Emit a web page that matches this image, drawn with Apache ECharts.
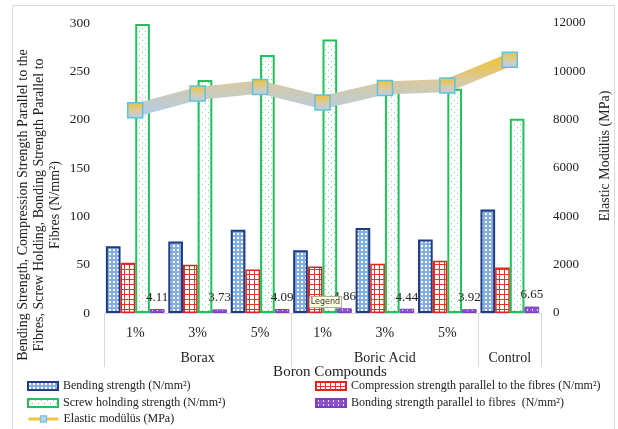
<!DOCTYPE html>
<html>
<head>
<meta charset="utf-8">
<script src="https://cdn.jsdelivr.net/npm/echarts@6/dist/echarts.min.js"></script>
<style>html,body{margin:0;padding:0;background:#fff;}#c{width:618px;height:429px;}</style>
</head>
<body>
<div id="c"></div>
<script>
const categories = ['1%', '3%', '5%', '1%', '3%', '5%', ''];
const groups = ['Borax', 'Boric Acid', 'Control'];
const groupBounds = [0, 3, 6, 7];
const groupCenters = [1.5, 4.5, 6.5];
const bending = [69, 74, 86, 65, 88, 76, 107];
const compression = [52, 50, 45, 48, 51, 54, 47];
const screw = [299, 241, 267, 283, 230, 232, 201];
const bonding = [4.11, 3.73, 4.09, 4.86, 4.44, 3.92, 6.65];
const elastic = [8390, 9080, 9350, 8710, 9310, 9410, 10480];
const seriesNames = [
  'Bending strength (N/mm²)',
  'Compression strength parallel to the fibres (N/mm²)',
  'Screw holnding strength (N/mm²)',
  'Bonding strength parallel to fibres  (N/mm²)',
  'Elastic modülüs (MPa)'
];

const SERIF = '"Liberation Serif", "Times New Roman", serif';

function pattern(w, h, draw) {
  const c = document.createElement('canvas');
  c.width = w; c.height = h;
  const g = c.getContext('2d');
  draw(g);
  return { image: c, repeat: 'repeat' };
}
const bluePat = pattern(4, 4, g => { g.fillStyle = '#86ade0'; g.fillRect(0, 0, 4, 4); g.fillStyle = '#ffffff'; g.fillRect(1, 1, 2, 2); });
const redPat = pattern(5, 5, g => { g.fillStyle = '#ffffff'; g.fillRect(0, 0, 5, 5); g.fillStyle = '#e8322a'; g.fillRect(4, 0, 1, 5); g.fillRect(0, 4, 5, 1); });
const greenPat = pattern(6, 6, g => { g.fillStyle = '#ffffff'; g.fillRect(0, 0, 6, 6); g.fillStyle = '#74d49a'; g.fillRect(1, 1, 1, 1); g.fillRect(4, 4, 1, 1); });
const purplePat = pattern(5, 4, g => { g.fillStyle = '#8c50cc'; g.fillRect(0, 0, 5, 4); g.fillStyle = '#e8dcf7'; g.fillRect(2, 1, 1, 2); });

const chart = echarts.init(document.getElementById('c'), null, { renderer: 'canvas' });

const textBase = { fontFamily: SERIF, color: '#222' };

function legendAt(left, centerY, item) {
  return {
    orient: 'horizontal', left: left, top: centerY - 7, padding: 0,
    itemWidth: 30, itemHeight: 8, itemGap: 5,
    textStyle: { fontFamily: SERIF, fontSize: 12, color: '#222' },
    data: [item]
  };
}

const option = {
  animation: false,
  backgroundColor: '#fff',
  grid: { left: 104, right: 77, top: 23, bottom: 116 },
  xAxis: [
    {
      type: 'category', data: categories,
      axisLine: { lineStyle: { color: '#d9d9d9' } },
      axisTick: { show: false },
      axisLabel: Object.assign({ fontSize: 14, margin: 13 }, textBase)
    },
    {
      type: 'value', min: 0, max: 7, position: 'bottom',
      axisLine: { show: false },
      splitLine: { show: false },
      axisTick: { show: true, customValues: groupBounds, length: 54, lineStyle: { color: '#d9d9d9' } },
      axisLabel: Object.assign({ fontSize: 14, margin: 38, customValues: groupCenters,
        formatter: v => groups[groupCenters.indexOf(v)] || '' }, textBase)
    }
  ],
  yAxis: [
    {
      type: 'value', min: 0, max: 300, interval: 50,
      axisLine: { show: false }, axisTick: { show: false }, splitLine: { show: false },
      axisLabel: Object.assign({ fontSize: 13.5, margin: 14 }, textBase)
    },
    {
      type: 'value', min: 0, max: 12000, interval: 2000, position: 'right',
      axisLine: { show: false }, axisTick: { show: false }, splitLine: { show: false },
      axisLabel: Object.assign({ fontSize: 13, margin: 12, formatter: v => String(v) }, textBase)
    }
  ],
  legend: [
    legendAt(27, 387, { name: seriesNames[0], icon: 'rect' }),
    legendAt(315, 387, { name: seriesNames[1], icon: 'rect' }),
    legendAt(27, 404, { name: seriesNames[2], icon: 'rect' }),
    legendAt(315, 404, { name: seriesNames[3], icon: 'rect' }),
    legendAt(27, 420, { name: seriesNames[4], itemStyle: { color: '#b8d0ea', borderColor: '#5bbfd8', borderWidth: 1 }, lineStyle: { color: '#f3c53a', width: 3 } })
  ],
  series: [
    {
      name: seriesNames[0], type: 'bar', data: bending, barGap: '0%', barCategoryGap: '6%',
      itemStyle: { color: bluePat, borderColor: '#1e3b84', borderWidth: 2 }
    },
    {
      name: seriesNames[1], type: 'bar', data: compression,
      itemStyle: { color: redPat, borderColor: '#e3241b', borderWidth: 1.5 }
    },
    {
      name: seriesNames[2], type: 'bar', data: screw,
      itemStyle: { color: greenPat, borderColor: '#22c05a', borderWidth: 2 }
    },
    {
      name: seriesNames[3], type: 'bar', data: bonding,
      itemStyle: { color: purplePat, borderColor: '#7b3fc4', borderWidth: 1 },
      label: { show: true, position: 'top', distance: 5, fontFamily: SERIF, fontSize: 13, color: '#222' }
    },
    {
      name: seriesNames[4], type: 'line', yAxisIndex: 1, data: elastic,
      symbol: 'rect', symbolSize: 15, z: 5,
      lineStyle: {
        width: 13,
        color: { type: 'linear', x: 0, y: 0, x2: 0, y2: 1, colorStops: [
          { offset: 0, color: '#f5c225' }, { offset: 0.45, color: '#d8c9a2' }, { offset: 1, color: '#b0cdec' } ] }
      },
      itemStyle: {
        color: { type: 'linear', x: 0, y: 0, x2: 0, y2: 1, colorStops: [
          { offset: 0, color: '#f2c02c' }, { offset: 0.5, color: '#d9cba0' }, { offset: 1, color: '#b7cfea' } ] },
        borderColor: '#62c1da', borderWidth: 1.5
      }
    }
  ],
  graphic: [
    { type: 'rect', silent: true, shape: { x: 12.5, y: 5.5, width: 602, height: 440 },
      style: { fill: 'none', stroke: '#d9d9d9', lineWidth: 1 } },
    { type: 'text', silent: true, x: 39, y: 205, rotation: Math.PI / 2,
      style: { text: 'Bending Strength, Compression Strength Parallel to the\nFibres, Screw Holding, Bonding Strength Parallel to\nFibres (N/mm²)',
        fontFamily: SERIF, fontSize: 14, lineHeight: 16, fill: '#222', align: 'center', verticalAlign: 'middle' } },
    { type: 'text', silent: true, x: 605, y: 156, rotation: Math.PI / 2,
      style: { text: 'Elastic Modülüs (MPa)', fontFamily: SERIF, fontSize: 14, fill: '#222', align: 'center', verticalAlign: 'middle' } },
    { type: 'text', silent: true, x: 330, y: 372,
      style: { text: 'Boron Compounds', fontFamily: SERIF, fontSize: 15, fill: '#222', align: 'center', verticalAlign: 'middle' } },
    { type: 'rect', silent: true, z: 100, shape: { x: 309.5, y: 296.5, width: 32, height: 11 },
      style: { fill: '#ffffe1', stroke: '#b0b0a0', lineWidth: 1 } },
    { type: 'text', silent: true, z: 101, x: 325.5, y: 302,
      style: { text: 'Legend', fontFamily: '"DejaVu Sans", sans-serif', fontSize: 8, fill: '#333', align: 'center', verticalAlign: 'middle' } }
  ]
};
chart.setOption(option);
</script>
</body>
</html>
